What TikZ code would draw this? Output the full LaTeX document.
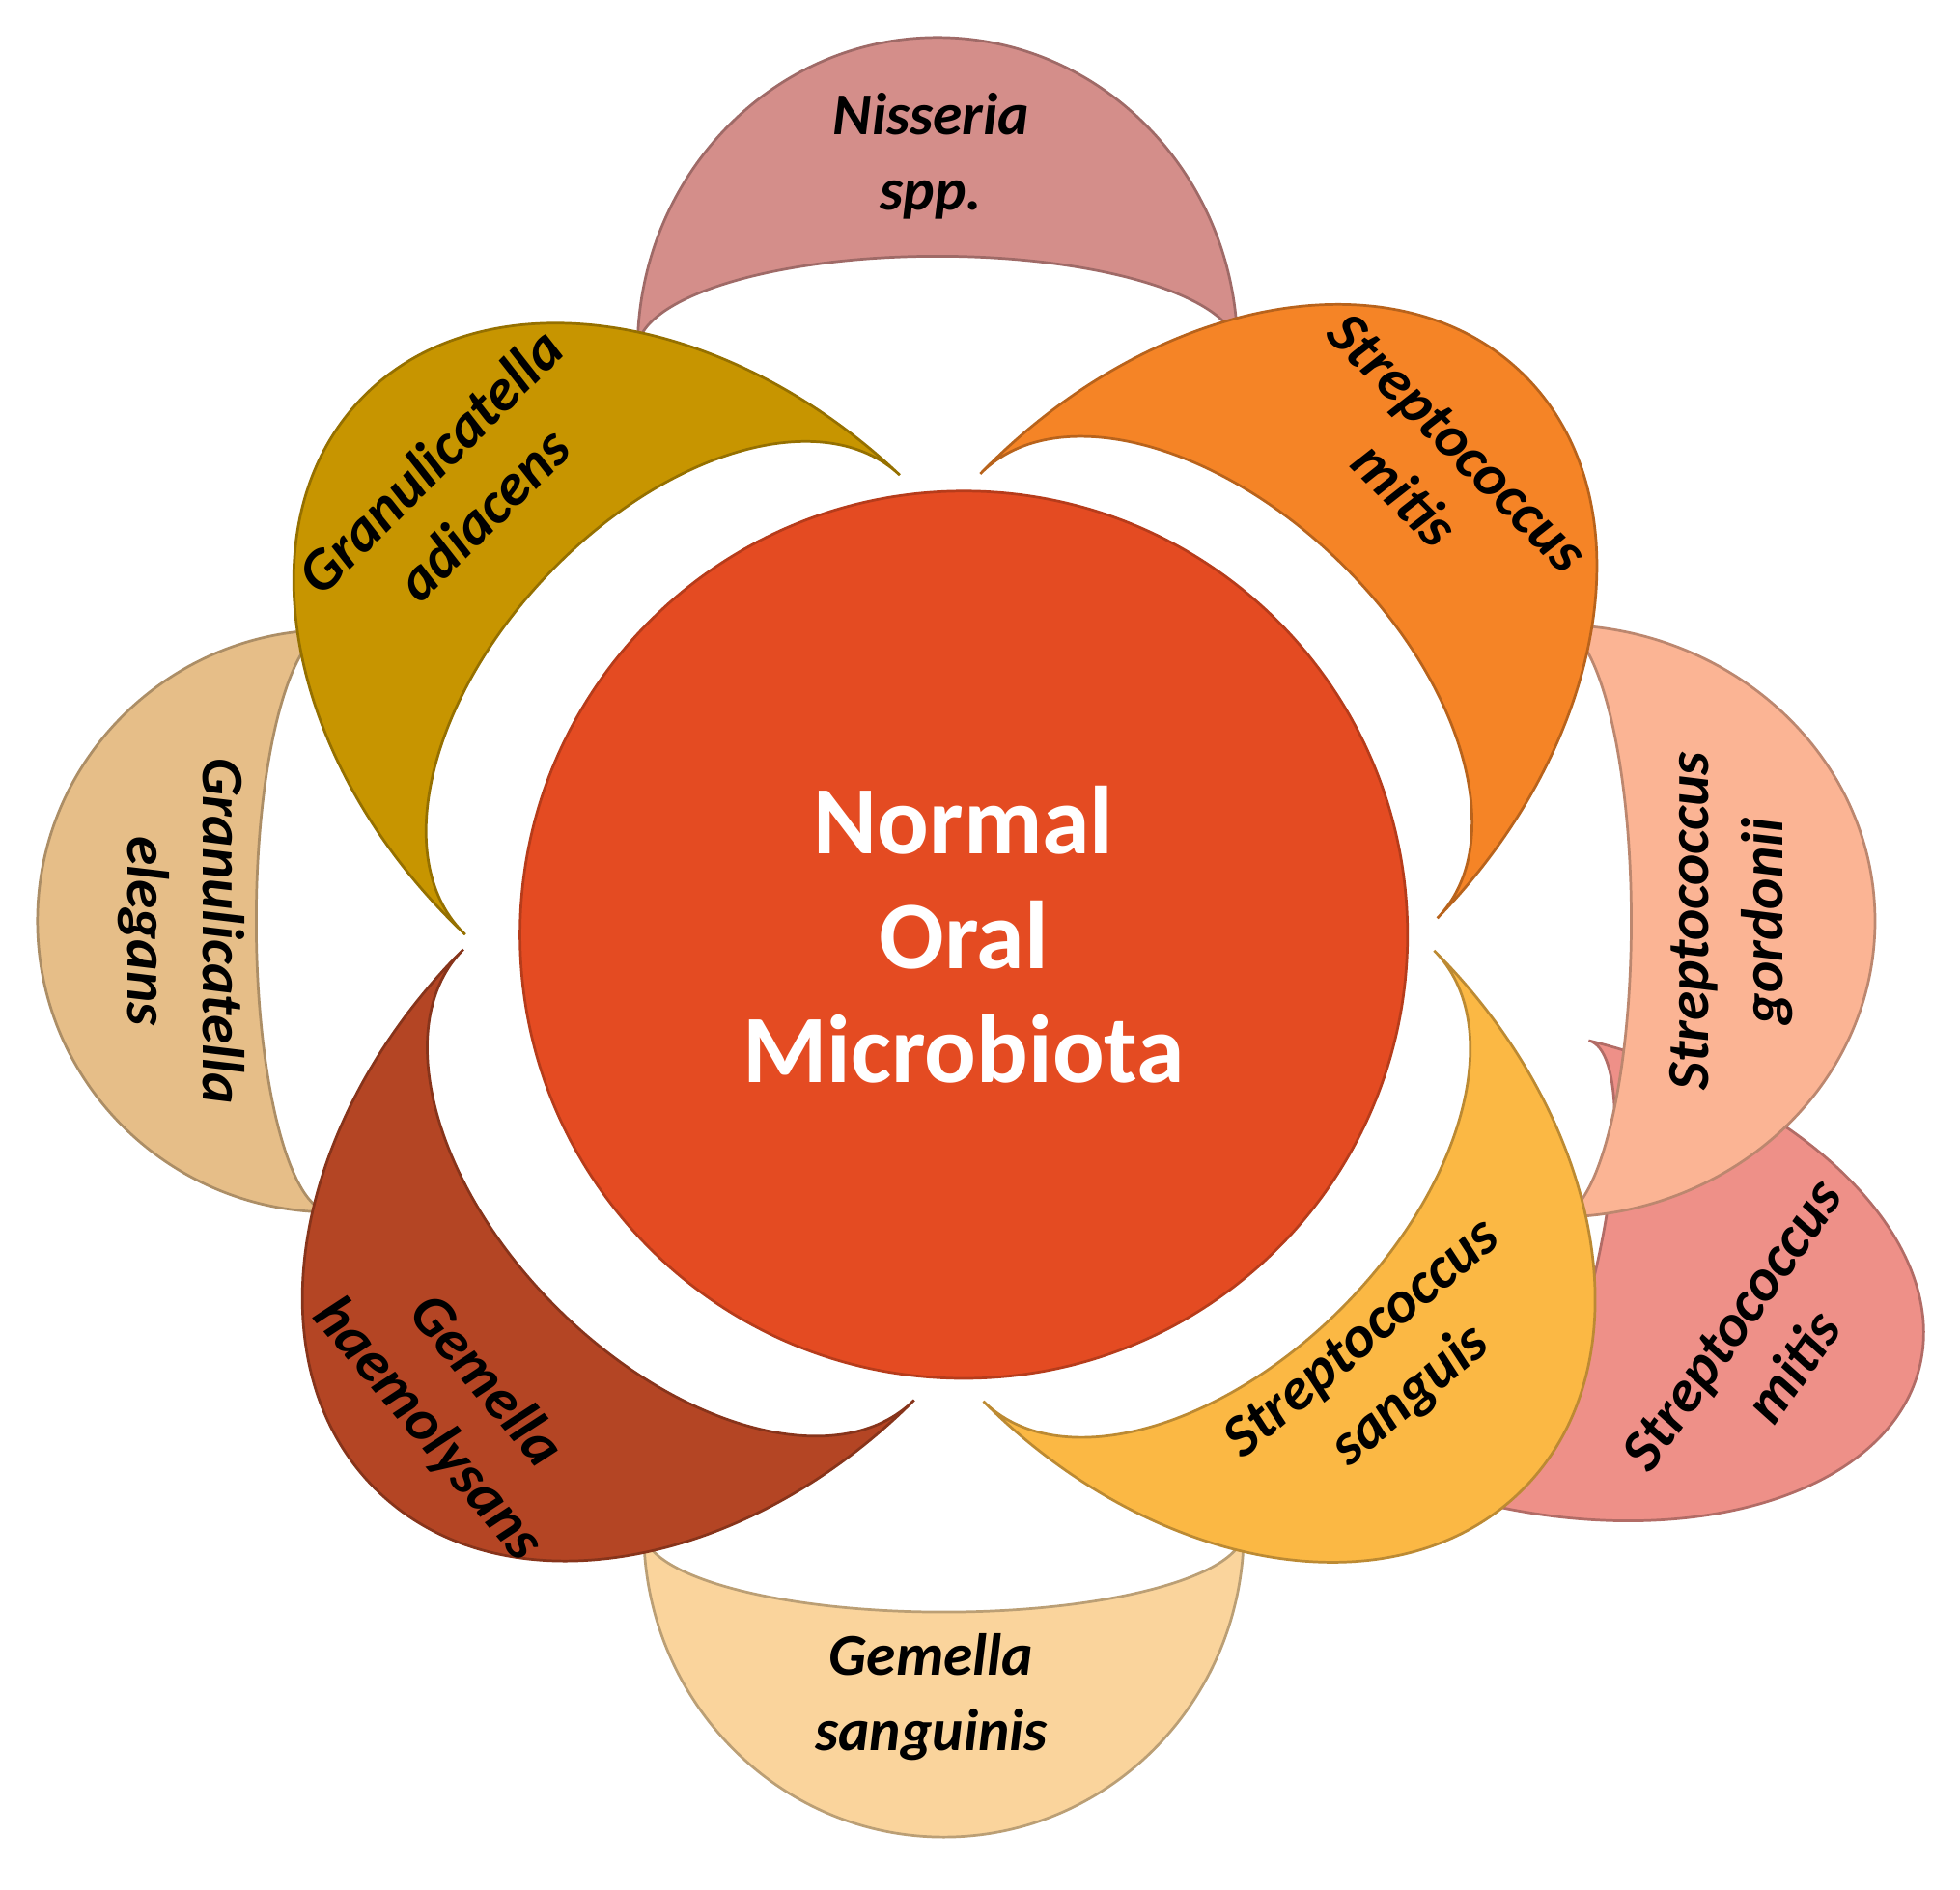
\documentclass[tikz,border=0pt]{standalone}
\usepackage{fontspec}
\setmainfont{Carlito}
\begin{document}
\newcommand\petal[8]{%
\begin{scope}[shift={(#1,#2)},rotate={#3-90}]
\fill[#7,draw=#7!75!black,line width=0.6pt] (-#4,0) arc[start angle=180,end angle=0,x radius=#4,y radius=#5]
  arc[start angle=0,end angle=180,x radius=#4,y radius=#6] -- cycle;
\end{scope}}
\begin{tikzpicture}[lab/.style={font=\fontsize{13.5}{17}\selectfont\bfseries\itshape,align=center,text=black}]
\useasboundingbox (0,0) rectangle (15.68,15.12);
\definecolor{cNis}{HTML}{D48E8A}
\definecolor{cSmt}{HTML}{F58426}
\definecolor{cSgo}{HTML}{FBB494}
\definecolor{cSmb}{HTML}{EE9088}
\definecolor{cSsa}{HTML}{FBB844}
\definecolor{cGsa}{HTML}{FAD49C}
\definecolor{cGha}{HTML}{B44524}
\definecolor{cGel}{HTML}{E6BE88}
\definecolor{cGad}{HTML}{C79500}
\definecolor{cCen}{HTML}{E44B22}
% outer petals
\petal{7.50}{12.32}{90}{2.40}{2.50}{0.75}{cNis}{}
\petal{7.55}{2.87}{-90}{2.40}{2.45}{0.65}{cGsa}{}
\petal{2.65}{7.75}{180}{2.33}{2.35}{0.60}{cGel}{}
\petal{12.25}{4.95}{-14}{1.90}{3.20}{0.50}{cSmb}{}
\petal{12.45}{7.75}{0}{2.37}{2.55}{0.60}{cSgo}{}
% inner petals
\petal{5.46}{9.48}{136.6}{2.53}{3.55}{1.50}{cGad}{}
\petal{9.67}{9.55}{45.8}{2.55}{3.60}{1.50}{cSmt}{}
\petal{9.67}{5.71}{-45}{2.55}{3.55}{1.50}{cSsa}{}
\petal{5.51}{5.72}{-135}{2.55}{3.55}{1.50}{cGha}{}
% centre
\node[circle,fill=cCen,draw=cCen!80!black,line width=0.6pt,minimum size=7.1cm,inner sep=0pt,
  font=\fontsize{22}{24}\selectfont\bfseries,text=white,align=center] (c) at (7.71,7.64) {Normal\\[2pt]Oral\\[2pt]Microbiota};
% labels
\node[lab] (l1) at (7.45,13.87) {Nisseria\\spp.};
\node[lab,rotate=-45] (l2) at (11.45,11.37) {Streptococcus\\mitis};
\node[lab,rotate=90] (l3) at (13.85,7.75) {Streptococcus\\gordonii};
\node[lab,rotate=55] (l4) at (14.10,4.35) {Streptococcus\\mitis};
\node[lab,rotate=40] (l5) at (11.10,4.17) {Streptococcus\\sanguis};
\node[lab] (l6) at (7.45,1.54) {Gemella\\sanguinis};
\node[lab,rotate=-50] (l7) at (3.65,3.87) {Gemella\\haemolysans};
\node[lab,rotate=-90] (l8) at (1.45,7.67) {Granulicatella\\elegans};
\node[lab,rotate=45] (l9) at (3.65,11.22) {Granulicatella\\adiacens};
\end{tikzpicture}
\end{document}
